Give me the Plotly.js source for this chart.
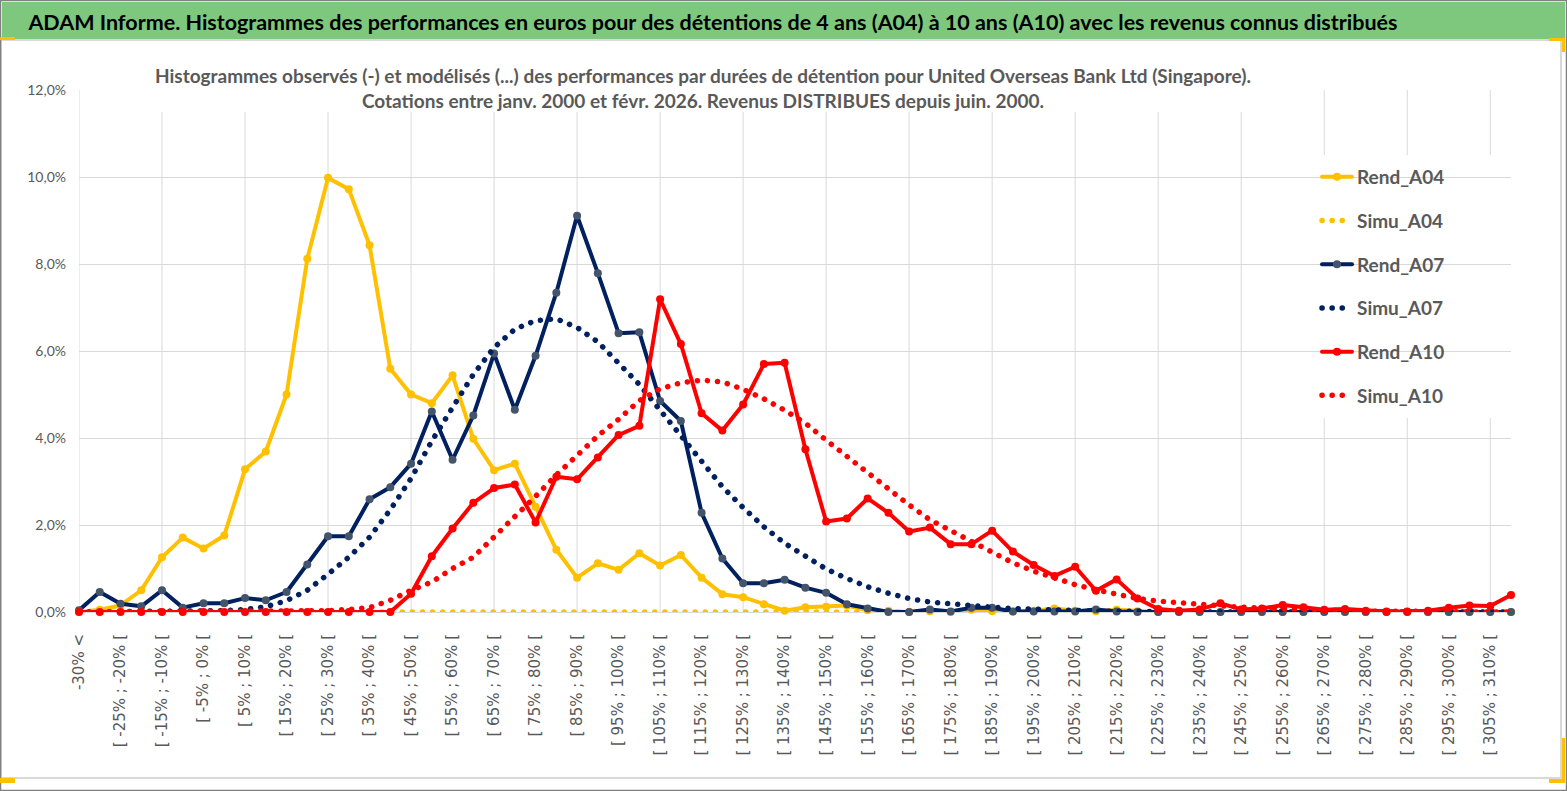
<!DOCTYPE html>
<html>
<head>
<meta charset="utf-8">
<script src="https://cdn.plot.ly/plotly-3.0.1.min.js"></script>
<style>
html,body{margin:0;padding:0;background:#fff;}
#chart{width:1567px;height:791px;}
.js-line{stroke-linecap:round !important;stroke-linejoin:round !important;}
</style>
</head>
<body>
<div id="chart"></div>
<script>
// ---- DATA ----
const categories = [
"-30% <","[ -30% ; -25% [","[ -25% ; -20% [","[ -20% ; -15% [","[ -15% ; -10% [","[ -10% ; -5% [","[ -5% ; 0% [","[ 0% ; 5% [",
"[ 5% ; 10% [","[ 10% ; 15% [","[ 15% ; 20% [","[ 20% ; 25% [","[ 25% ; 30% [","[ 30% ; 35% [","[ 35% ; 40% [","[ 40% ; 45% [",
"[ 45% ; 50% [","[ 50% ; 55% [","[ 55% ; 60% [","[ 60% ; 65% [","[ 65% ; 70% [","[ 70% ; 75% [","[ 75% ; 80% [","[ 80% ; 85% [",
"[ 85% ; 90% [","[ 90% ; 95% [","[ 95% ; 100% [","[ 100% ; 105% [","[ 105% ; 110% [","[ 110% ; 115% [","[ 115% ; 120% [","[ 120% ; 125% [",
"[ 125% ; 130% [","[ 130% ; 135% [","[ 135% ; 140% [","[ 140% ; 145% [","[ 145% ; 150% [","[ 150% ; 155% [","[ 155% ; 160% [","[ 160% ; 165% [",
"[ 165% ; 170% [","[ 170% ; 175% [","[ 175% ; 180% [","[ 180% ; 185% [","[ 185% ; 190% [","[ 190% ; 195% [","[ 195% ; 200% [","[ 200% ; 205% [",
"[ 205% ; 210% [","[ 210% ; 215% [","[ 215% ; 220% [","[ 220% ; 225% [","[ 225% ; 230% [","[ 230% ; 235% [","[ 235% ; 240% [","[ 240% ; 245% [",
"[ 245% ; 250% [","[ 250% ; 255% [","[ 255% ; 260% [","[ 260% ; 265% [","[ 265% ; 270% [","[ 270% ; 275% [","[ 275% ; 280% [","[ 280% ; 285% [",
"[ 285% ; 290% [","[ 290% ; 295% [","[ 295% ; 300% [","[ 300% ; 305% [","[ 305% ; 310% [","> 310%"
];

// values in %
const rend_A04 = [0.00,0.05,0.15,0.50,1.26,1.71,1.46,1.76,3.28,3.69,5.00,8.12,9.98,9.72,8.43,5.59,5.00,4.80,5.44,3.98,
3.26,3.41,2.42,1.43,0.79,1.12,0.97,1.35,1.07,1.31,0.79,0.41,0.34,0.18,0.03,0.11,0.12,0.15,0.04,0.03,
0.00,0.02,0.00,0.05,0.02,0.01,0.03,0.08,0.03,0.02,0.05,0.02,0.00,0.00,0.00,0.00,0.00,0.00,0.00,0.00,
0.00,0.00,0.00,0.00,0.00,0.00,0.00,0.00,0.00,0.00];
const simu_A04 = [0,0,0,0,0,0,0,0,0,0,0,0,0,0,0,0,0,0,0,0,0,0,0,0,0,0,0,0,0,0,0,0,0,0,0,0,0,0,0,0,
0,0,0,0,0,0,0,0,0,0,0,0,0,0,0,0,0,0,0,0,0,0,0,0,0,0,0,0,0,0];
const rend_A07 = [0.04,0.46,0.19,0.13,0.50,0.10,0.20,0.20,0.32,0.27,0.46,1.09,1.74,1.74,2.59,2.87,3.41,4.61,3.50,4.52,
5.94,4.65,5.89,7.34,9.11,7.79,6.41,6.43,4.85,4.39,2.28,1.23,0.66,0.66,0.74,0.56,0.44,0.18,0.08,0.00,
0.00,0.06,0.01,0.10,0.10,0.01,0.01,0.01,0.01,0.06,0.01,0.00,0.00,0.00,0.00,0.00,0.00,0.00,0.00,0.00,
0.00,0.00,0.00,0.00,0.00,0.00,0.00,0.00,0.00,0.00];
const simu_A07 = [0.00,0.00,0.00,0.00,0.00,0.00,0.01,0.03,0.06,0.12,0.26,0.50,0.87,1.26,1.72,2.35,3.07,3.93,4.70,5.46,
6.08,6.50,6.70,6.74,6.54,6.21,5.72,5.23,4.64,4.05,3.44,2.88,2.40,1.96,1.58,1.27,0.99,0.77,0.58,0.43,
0.31,0.23,0.18,0.14,0.11,0.08,0.06,0.04,0.03,0.02,0.02,0.01,0.01,0.00,0.00,0.00,0.00,0.00,0.00,0.00,
0.00,0.00,0.00,0.00,0.00,0.00,0.00,0.00,0.00,0.00];
const rend_A10 = [0.00,0.00,0.00,0.00,0.00,0.00,0.00,0.00,0.00,0.00,0.00,0.00,0.00,0.00,0.00,0.00,0.42,1.28,1.92,2.51,
2.85,2.93,2.06,3.11,3.05,3.55,4.07,4.28,7.19,6.16,4.57,4.17,4.77,5.70,5.73,3.74,2.08,2.15,2.61,2.28,
1.85,1.94,1.56,1.56,1.87,1.39,1.08,0.83,1.04,0.49,0.75,0.31,0.07,0.03,0.06,0.20,0.06,0.08,0.16,0.11,
0.05,0.07,0.03,0.01,0.01,0.03,0.10,0.15,0.14,0.39];
const simu_A10 = [0.00,0.00,0.00,0.00,0.00,0.00,0.00,0.00,0.00,0.00,0.01,0.02,0.03,0.06,0.10,0.27,0.50,0.69,1.00,1.26,
1.72,2.18,2.66,3.15,3.61,4.05,4.43,4.86,5.13,5.27,5.33,5.29,5.12,4.90,4.64,4.34,3.95,3.57,3.19,2.82,
2.46,2.12,1.87,1.61,1.35,1.13,0.94,0.77,0.63,0.51,0.40,0.31,0.25,0.21,0.16,0.13,0.11,0.09,0.07,0.05,
0.04,0.03,0.02,0.02,0.01,0.01,0.00,0.00,0.00,0.00];

const seriesNames = ["Rend_A04","Simu_A04","Rend_A07","Simu_A07","Rend_A10","Simu_A10"];
const yTickValues = [0,2,4,6,8,10,12];
const yTickLabels = ["0,0%","2,0%","4,0%","6,0%","8,0%","10,0%","12,0%"];

const titleText = "ADAM Informe. Histogrammes des performances en euros pour des détentions de 4 ans (A04) à 10 ans (A10) avec les revenus connus distribués";
const subLine1 = "Histogrammes observés (-) et modélisés (...) des performances par durées de détention pour United Overseas Bank Ltd (Singapore).";
const subLine2 = "Cotations entre janv. 2000 et févr. 2026. Revenus DISTRIBUES depuis juin. 2000.";

// ---- STYLE ----
const YEL = "#FFC000", NAVY = "#002060", RED = "#FF0000", NAVYMK = "#44546A";
const SANS = "Lato, Noto Sans, sans-serif";
const GREY = "#595959";
const W = 1567, H = 791, L = 79, R = 56, T = 90, B = 179;
const pw = W - L - R, ph = H - T - B;
const px = x => (x - L) / pw;
const py = y => (H - B - y) / ph;

const DOT = "0.1px,10px";
function solid(name, y, color, mk, grp) {
  return {type:"scatter", mode:"lines+markers", name:name, x:categories, y:y,
    line:{color:color, width:4}, marker:{color:mk, size:8, line:{width:0}},
    cliponaxis:false, legendgroup:grp, hoverinfo:"x+y+name"};
}
function dotted(name, y, color, grp) {
  return {type:"scatter", mode:"lines", name:name, x:categories, y:y,
    line:{color:color, width:5.5, dash:DOT}, cliponaxis:false, legendgroup:grp};
}
const data = [
  solid(seriesNames[0], rend_A04, YEL, YEL, "g1"),
  dotted(seriesNames[1], simu_A04, YEL, "g2"),
  solid(seriesNames[2], rend_A07, NAVY, NAVYMK, "g3"),
  dotted(seriesNames[3], simu_A07, NAVY, "g4"),
  solid(seriesNames[4], rend_A10, RED, RED, "g5"),
  dotted(seriesNames[5], simu_A10, RED, "g6")
];

const shapes = [];
// vertical gridlines every 4 categories
categories.forEach((c,i)=>{ if(i%4===0) shapes.push({type:"line", xref:"x", yref:"paper", x0:c, x1:c, y0:0, y1:1, line:{color:"#d9d9d9", width:1}, layer:"below"}); });
// white boxes behind subtitle and legend
shapes.push({type:"rect", xref:"paper", yref:"paper", x0:px(150), x1:px(1258), y0:py(112), y1:py(56), fillcolor:"#fff", line:{width:0}, layer:"between"});
shapes.push({type:"rect", xref:"paper", yref:"paper", x0:px(1258), x1:px(1492), y0:py(418), y1:py(155), fillcolor:"#fff", line:{width:0}, layer:"between"});
// frame
shapes.push({type:"rect", xref:"paper", yref:"paper", x0:px(2), x1:px(1565), y0:py(39), y1:py(2), fillcolor:"#7DC87D", line:{width:0}, layer:"below"});
shapes.push({type:"rect", xref:"paper", yref:"paper", x0:px(1), x1:px(1561), y0:py(778), y1:py(40), fillcolor:"rgba(0,0,0,0)", line:{color:"#d9d9d9", width:2}, layer:"below"});
shapes.push({type:"rect", xref:"paper", yref:"paper", x0:px(0.5), x1:px(1566.5), y0:py(790.5), y1:py(0.5), fillcolor:"rgba(0,0,0,0)", line:{color:"#808080", width:1.5}, layer:"below"});
// yellow handles
[[0,37,15,40],[1549,38,1565,41],[1562,38,1565,52],[1562,738,1565,783],[1549,779,1565,783],[0,778,15,783]].forEach(r=>{
  shapes.push({type:"rect", xref:"paper", yref:"paper", x0:px(r[0]), x1:px(r[2]), y0:py(r[3]), y1:py(r[1]), fillcolor:YEL, line:{width:0}, layer:"below"});
});

const layout = {
  width:W, height:H,
  margin:{l:L, r:R, t:T, b:B, pad:0},
  paper_bgcolor:"#fff", plot_bgcolor:"rgba(0,0,0,0)",
  separators:", ",
  title:{text:"<b>"+titleText+"</b>", x:713/W, xref:"container", xanchor:"center", y:1-22/H, yref:"container", yanchor:"middle",
    font:{family:SANS, size:21.5, color:"#000"}},
  showlegend:true,
  legend:{x:px(1317), y:py(158), xanchor:"left", yanchor:"top", bgcolor:"rgba(0,0,0,0)", borderwidth:0,
    font:{family:SANS, size:19, color:GREY, weight:"bold"}, tracegroupgap:16, traceorder:"grouped", itemwidth:30},
  xaxis:{type:"category", categoryorder:"array", categoryarray:categories, range:[0, categories.length-1],
    tickmode:"array", tickvals:categories.filter((c,i)=>i%2===0), ticktext:categories.filter((c,i)=>i%2===0),
    tickangle:-90, tickfont:{family:"DejaVu Sans, Verdana, sans-serif", size:15, color:GREY},
    showgrid:false, zeroline:false, showline:false, ticks:"", ticklabelstandoff:18, fixedrange:true},
  yaxis:{range:[0,12], tickmode:"array", tickvals:yTickValues, ticktext:yTickLabels,
    tickfont:{family:SANS, size:14, color:GREY}, gridcolor:"#d9d9d9", gridwidth:1,
    zeroline:true, zerolinecolor:"#d9d9d9", zerolinewidth:1, showline:false, ticks:"", ticklabelstandoff:12, fixedrange:true},
  shapes:shapes,
  annotations:[{xref:"paper", yref:"paper", x:px(703), y:py(88), xanchor:"center", yanchor:"middle", showarrow:false,
    text:"<b>"+subLine1+"</b><br><b>"+subLine2+"</b>", align:"center",
    font:{family:SANS, size:19, color:GREY}}]
};

Plotly.newPlot("chart", data, layout, {staticPlot:true, displayModeBar:false});
</script>
</body>
</html>
